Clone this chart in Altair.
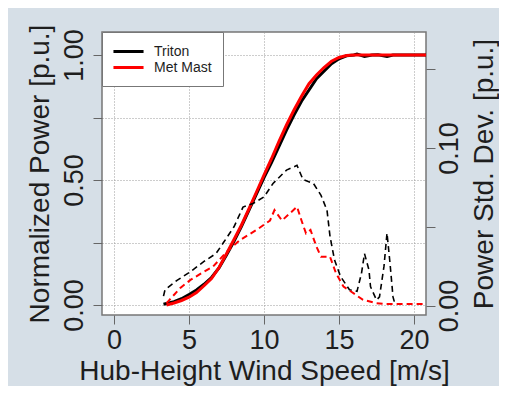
import altair as alt
import pandas as pd

# ---- data ----
series = ["Triton", "Met Mast"]
series_colors = ["#000000", "#ff0000"]

triton_ws = [3.3, 3.5, 4.0, 4.5, 5.0, 5.5, 6.0, 6.5, 7.0, 7.5, 8.0, 8.5, 9.0, 9.5, 10.0, 10.5,
             11.0, 11.5, 12.0, 12.5, 13.0, 13.5, 14.0, 14.5, 15.0, 15.5, 16.0, 16.2, 16.7,
             17.2, 17.6, 18.2, 18.6, 19.0, 20.8]
triton_power = [0.003, 0.006, 0.013, 0.025, 0.042, 0.060, 0.083, 0.110, 0.148, 0.200, 0.255,
                0.315, 0.380, 0.445, 0.510, 0.570, 0.635, 0.700, 0.760, 0.815, 0.860, 0.905,
                0.935, 0.965, 0.985, 0.997, 1.000, 1.004, 0.994, 1.000, 1.001, 0.994, 1.000,
                1.000, 1.000]

mast_ws = [3.5, 4.0, 4.5, 5.0, 5.5, 6.0, 6.5, 7.0, 7.5, 8.0, 8.5, 9.0, 9.5, 10.0, 10.5, 11.0,
           11.5, 12.0, 12.5, 13.0, 13.5, 14.0, 14.5, 15.0, 15.5, 16.0, 20.8]
mast_power = [0.0, 0.008, 0.018, 0.031, 0.050, 0.077, 0.106, 0.150, 0.205, 0.262, 0.320, 0.385,
              0.452, 0.520, 0.585, 0.655, 0.720, 0.780, 0.835, 0.885, 0.920, 0.950, 0.975,
              0.990, 0.998, 1.000, 1.000]

triton_sd_ws = [3.3, 3.4, 4.2, 5.1, 6.0, 6.8, 7.3, 8.0, 8.6, 9.3, 10.0, 10.6, 11.5, 12.2, 12.6,
                13.3, 13.8, 14.2, 14.4, 14.7, 15.1, 15.7, 16.2, 16.5, 16.7, 17.0, 17.1, 17.5,
                17.7, 18.0, 18.2, 18.4, 18.6, 18.7]
triton_sd = [0.006, 0.010, 0.016, 0.0215, 0.028, 0.033, 0.040, 0.050, 0.0625, 0.065, 0.069,
             0.0775, 0.086, 0.089, 0.080, 0.0775, 0.070, 0.0605, 0.044, 0.029, 0.0185, 0.010,
             0.009, 0.0205, 0.033, 0.0225, 0.012, 0.0035, 0.0055, 0.025, 0.046, 0.027, 0.0055,
             0.002]

mast_sd_ws = [3.5, 3.7, 4.4, 5.1, 6.0, 6.6, 7.5, 8.4, 9.5, 10.1, 10.4, 10.7, 11.2, 12.2, 12.5,
              12.8, 13.1, 13.5, 13.8, 14.4, 14.8, 15.3, 15.8, 16.6, 17.5, 18.0, 20.8]
mast_sd = [0.0015, 0.0036, 0.011, 0.0163, 0.0215, 0.0247, 0.034, 0.0416, 0.048, 0.052, 0.054,
           0.0606, 0.054, 0.0627, 0.054, 0.0458, 0.048, 0.0373, 0.031, 0.031, 0.0205, 0.012,
           0.0089, 0.0036, 0.0015, 0.001, 0.001]

x_ticks = [0, 5, 10, 15, 20]
power_ticks = [0, 0.25, 0.5, 0.75, 1.0]
sd_ticks = [0, 0.05, 0.10, 0.15]

# ---- tables ----
power_df = pd.concat([
    pd.DataFrame({"ws": triton_ws, "val": triton_power, "src": series[0]}),
    pd.DataFrame({"ws": mast_ws, "val": mast_power, "src": series[1]}),
])
sd_df = pd.concat([
    pd.DataFrame({"ws": triton_sd_ws, "val": triton_sd, "src": series[0]}),
    pd.DataFrame({"ws": mast_sd_ws, "val": mast_sd, "src": series[1]}),
])

FONT = "Liberation Sans"
TXT = "#1e1e1e"

x_axis = alt.Axis(
    orient="bottom", values=x_ticks, format="d", grid=True, gridColor="#9a9a9a",
    gridDash=[1, 2], domain=False, tickColor="#666", tickSize=9, labelFontSize=27,
    labelFont=FONT, labelColor=TXT, labelPadding=3, labelFlush=False,
    title="Hub-Height Wind Speed [m/s]", titleFont=FONT, titleFontSize=28,
    titleFontWeight="normal", titleColor=TXT, titleBaseline="alphabetic", titleY=64,
)
x_enc = alt.X("ws:Q", scale=alt.Scale(domain=[-0.8, 20.8], nice=False, zero=False), axis=x_axis)

left_axis = alt.Axis(
    orient="left", values=power_ticks,
    labelExpr="(datum.value == 0 || datum.value == 0.5 || datum.value == 1) ? format(datum.value, '.2f') : ''",
    grid=True, gridColor="#9a9a9a", gridDash=[1, 2], domain=False, tickColor="#666",
    tickSize=9, labelFontSize=27, labelFont=FONT, labelColor=TXT, labelAngle=270,
    labelAlign="center", labelBaseline="alphabetic", labelPadding=11, labelOverlap=False,
    labelBound=False, title="Normalized Power [p.u.]", titleFont=FONT, titleFontSize=28,
    titleFontWeight="normal", titleColor=TXT, titleAngle=270, titleBaseline="alphabetic",
    titleAlign="center", titleX=-54, titleY=141.5,
)
right_axis = alt.Axis(
    orient="right", values=sd_ticks,
    labelExpr="(datum.value == 0 || abs(datum.value - 0.1) < 1e-9) ? format(datum.value, '.2f') : ''",
    grid=False, domain=False, tickColor="#666", tickSize=9, labelFontSize=27, labelFont=FONT,
    labelColor=TXT, labelAngle=270, labelAlign="center", labelBaseline="alphabetic",
    labelPadding=22, labelOverlap=False, labelBound=False,
    title="Power Std. Dev. [p.u.]", titleFont=FONT, titleFontSize=28,
    titleFontWeight="normal", titleColor=TXT, titleAngle=270, titleBaseline="alphabetic",
    titleAlign="center", titleX=66, titleY=141.5,
)

y_power = alt.Y("val:Q", scale=alt.Scale(domain=[-0.04, 1.092], nice=False, zero=False), axis=left_axis)
y_sd = alt.Y("val:Q", scale=alt.Scale(domain=[-0.006, 0.1737], nice=False, zero=False), axis=right_axis)

color_enc = alt.Color(
    "src:N", sort=series,
    scale=alt.Scale(domain=series, range=series_colors),
    legend=alt.Legend(
        title=None, orient="top-left", offset=0, padding=11, fillColor="white",
        strokeColor="#777", symbolType="M-2.15,0H2.15", symbolStrokeWidth=3, symbolSize=196,
        symbolOffset=7, labelFont=FONT, labelFontSize=14, labelColor=TXT, labelOffset=17,
        rowPadding=0,
    ),
)

base_p = alt.Chart(power_df)
p_triton = base_p.transform_filter(alt.datum.src == series[0]).mark_line(strokeWidth=3, clip=True).encode(
    x=x_enc, y=y_power, color=color_enc)
p_mast = base_p.transform_filter(alt.datum.src == series[1]).mark_line(strokeWidth=3, clip=True).encode(
    x=x_enc, y=y_power, color=color_enc)
left = alt.layer(p_triton, p_mast)

base_s = alt.Chart(sd_df)
s_triton = base_s.transform_filter(alt.datum.src == series[0]).mark_line(
    strokeWidth=1.6, strokeDash=[6, 4], color=series_colors[0], clip=True).encode(x=x_enc, y=y_sd)
s_mast = base_s.transform_filter(alt.datum.src == series[1]).mark_line(
    strokeWidth=2, strokeDash=[6, 4], color=series_colors[1], clip=True).encode(x=x_enc, y=y_sd)
right = alt.layer(s_triton, s_mast)

chart = alt.layer(left, right).resolve_scale(y="independent").properties(
    width=324, height=283,
    padding={"left": 94, "top": 24, "right": 73, "bottom": 71},
    autosize=alt.AutoSizeParams(type="none"),
    background="#d6dfe7",
).configure_view(stroke="#777", strokeWidth=1.5, fill="white")

chart.save("out.html", embed_options={"renderer": "svg", "actions": False})
